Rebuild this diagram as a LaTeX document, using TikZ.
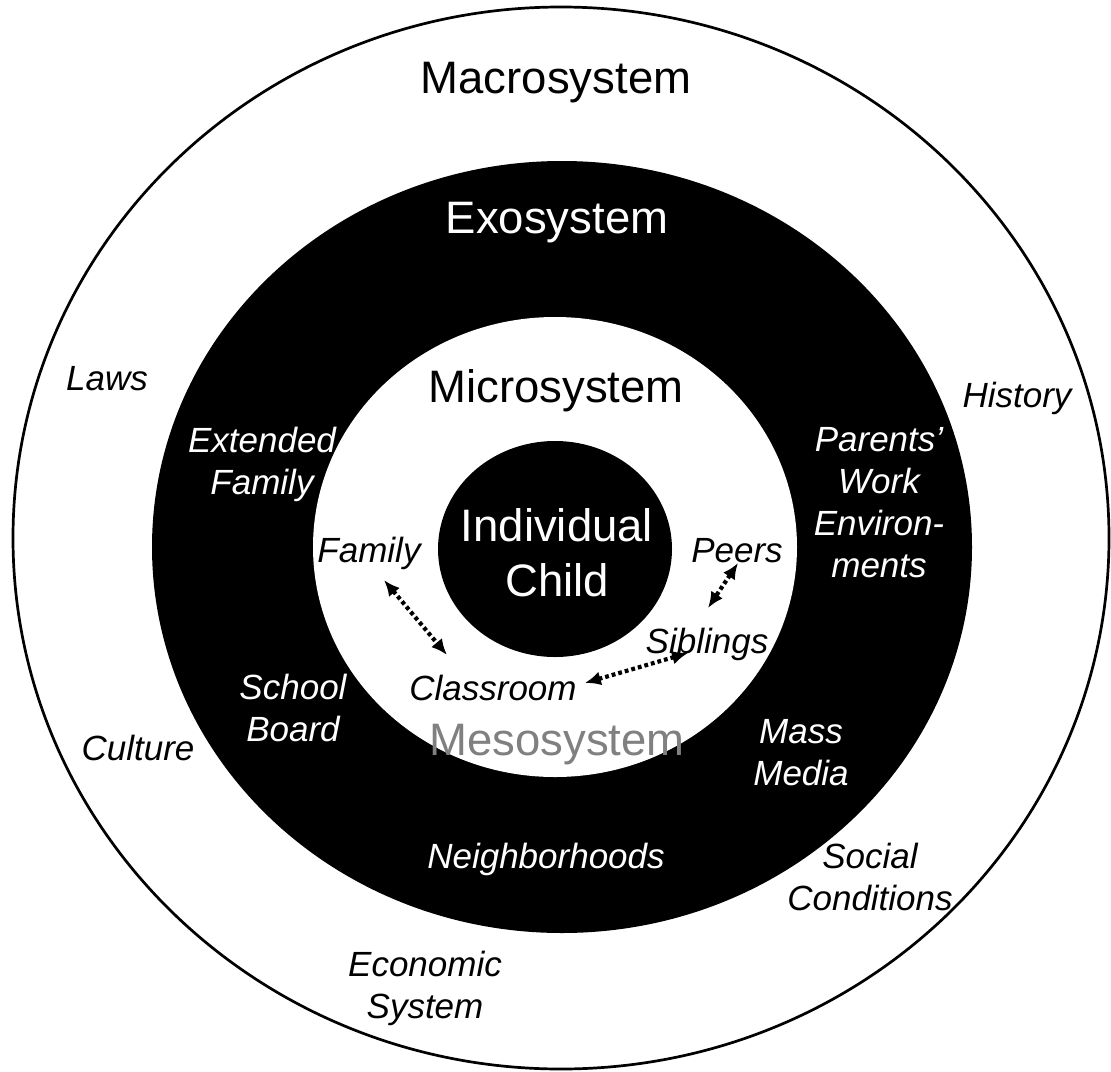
\documentclass[tikz,border=0pt]{standalone}
\usepackage{fontspec}
\setmainfont{Liberation Sans}
\usetikzlibrary{arrows.meta}
\definecolor{mesogray}{RGB}{128,128,128}
\begin{document}
\begin{tikzpicture}[x=1pt,y=-1pt,
  big/.style={font=\fontsize{45.5}{55}\selectfont, inner sep=0pt, anchor=base},
  lab/.style={font=\fontsize{35}{42}\selectfont\itshape, inner sep=0pt, anchor=base},
  mlab/.style={font=\fontsize{35}{42}\selectfont\itshape, inner sep=0pt, anchor=center, align=center},
  arr/.style={{Latex[length=16pt,width=14pt]}-{Latex[length=16pt,width=14pt]}, line width=4.2pt, dash pattern=on 3.8pt off 3pt}]
\useasboundingbox (0,0) rectangle (1111,1071);
% rings
\draw[line width=2.7pt] (561,538) ellipse [x radius=548, y radius=531];
\fill[black] (562,547) ellipse [x radius=410, y radius=386];
\fill[white] (555,547) ellipse [x radius=242, y radius=230];
\fill[black] (555,549) ellipse [x radius=117, y radius=108];
% system titles
\node[big] (macro) at (556,93) {Macrosystem};
\node[big, text=white] (exo) at (557,233) {Exosystem};
\node[big] (micro) at (556,402) {Microsystem};
\node[big, text=white, anchor=center, align=center] (child) at (557,553) {Individual\\Child};
\node[big, text=mesogray] (meso) at (557,755) {Mesosystem};
% macrosystem labels
\node[lab] (laws) at (107,390) {Laws};
\node[lab] (history) at (1017,407) {History};
\node[lab] (culture) at (138,760) {Culture};
\node[mlab] (social) at (870,877) {Social\\Conditions};
\node[mlab] (economic) at (425,988) {Economic\\System};
% exosystem labels
\node[mlab, text=white] (extended) at (262,464) {Extended\\Family};
\node[mlab, text=white] (school) at (293,708) {School\\Board};
\node[mlab, text=white] (parents) at (879,503) {Parents'\\Work\\Environ-\\ments};
\node[mlab, text=white] (mass) at (801,753) {Mass\\Media};
\node[lab, text=white] (neigh) at (546,868) {Neighborhoods};
% microsystem labels
\node[lab] (family) at (369,562) {Family};
\node[lab] (peers) at (737,562) {Peers};
\node[lab] (siblings) at (707,653) {Siblings};
\node[lab] (classroom) at (493,700) {Classroom};
% mesosystem connections
\draw[arr] ([shift={(15,18)}]family.base) -- ([shift={(-46,-45)}]classroom.base);
\draw[arr] ([shift={(1,1)}]peers.base) -- ([shift={(1,-45)}]siblings.base);
\draw[arr] ([shift={(8,-17)}]classroom.base east) -- ([shift={(-19,0)}]siblings.base);
\end{tikzpicture}
\end{document}
